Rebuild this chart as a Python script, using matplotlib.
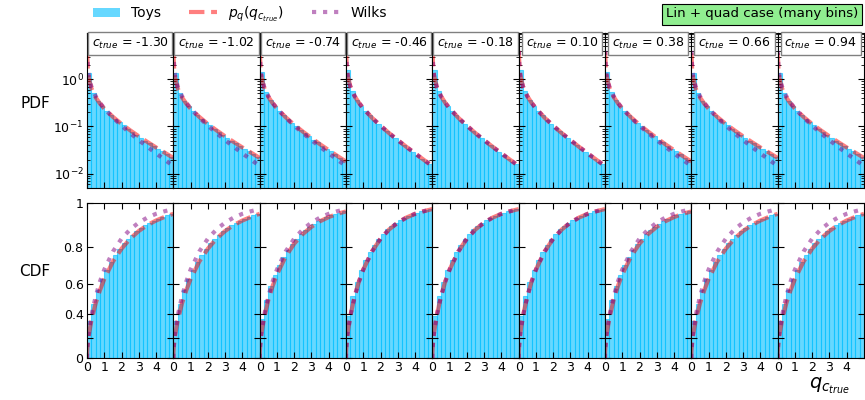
import numpy as np
import matplotlib.pyplot as plt
from matplotlib.patches import Patch
from matplotlib.lines import Line2D

# c_true value of each column
c_true = [-1.30, -1.02, -0.74, -0.46, -0.18, 0.10, 0.38, 0.66, 0.94]

# histogram binning of the toys (20 bins between 0 and 5)
bin_edges = np.linspace(0, 5, 21)

# toy histogram heights (density) per column
toys_pdf = [
    [1.38, 0.51, 0.354, 0.27, 0.215, 0.176, 0.146, 0.123, 0.105, 0.09, 0.077, 0.067, 0.058, 0.05, 0.044, 0.038, 0.034, 0.03, 0.026, 0.023],
    [1.38, 0.51, 0.354, 0.27, 0.215, 0.176, 0.146, 0.123, 0.105, 0.09, 0.077, 0.067, 0.058, 0.05, 0.044, 0.038, 0.034, 0.03, 0.026, 0.023],
    [1.45, 0.53, 0.363, 0.274, 0.216, 0.174, 0.144, 0.12, 0.1, 0.085, 0.072, 0.062, 0.053, 0.046, 0.039, 0.034, 0.03, 0.026, 0.022, 0.02],
    [1.53, 0.55, 0.372, 0.277, 0.215, 0.172, 0.14, 0.114, 0.095, 0.079, 0.066, 0.056, 0.048, 0.04, 0.034, 0.029, 0.025, 0.021, 0.018, 0.016],
    [1.53, 0.55, 0.372, 0.277, 0.215, 0.172, 0.14, 0.114, 0.095, 0.079, 0.066, 0.056, 0.048, 0.04, 0.034, 0.029, 0.025, 0.021, 0.018, 0.016],
    [1.53, 0.55, 0.372, 0.277, 0.215, 0.172, 0.14, 0.114, 0.095, 0.079, 0.066, 0.056, 0.048, 0.04, 0.034, 0.029, 0.025, 0.021, 0.018, 0.016],
    [1.45, 0.53, 0.363, 0.274, 0.216, 0.174, 0.144, 0.12, 0.1, 0.085, 0.072, 0.062, 0.053, 0.046, 0.039, 0.034, 0.03, 0.026, 0.022, 0.02],
    [1.38, 0.51, 0.354, 0.27, 0.215, 0.176, 0.146, 0.123, 0.105, 0.09, 0.077, 0.067, 0.058, 0.05, 0.044, 0.038, 0.034, 0.03, 0.026, 0.023],
    [1.38, 0.51, 0.354, 0.27, 0.215, 0.176, 0.146, 0.123, 0.105, 0.09, 0.077, 0.067, 0.058, 0.05, 0.044, 0.038, 0.034, 0.03, 0.026, 0.023],
]

# p_q(q_c_true) curve, pdf
q_pdf = [0.01, 0.05, 0.1, 0.25, 0.5, 0.75, 1, 1.5, 2, 2.5, 3, 3.5, 4, 4.5, 5]
pq_pdf = [
    [3.55, 1.56, 1.08, 0.646, 0.413, 0.305, 0.239, 0.16, 0.113, 0.083, 0.062, 0.047, 0.036, 0.028, 0.0216],
    [3.55, 1.56, 1.08, 0.646, 0.413, 0.305, 0.239, 0.16, 0.113, 0.083, 0.062, 0.047, 0.036, 0.028, 0.0216],
    [3.75, 1.65, 1.14, 0.674, 0.426, 0.311, 0.241, 0.158, 0.109, 0.078, 0.057, 0.042, 0.0316, 0.0238, 0.0181],
    [3.97, 1.74, 1.2, 0.704, 0.439, 0.317, 0.242, 0.154, 0.104, 0.0723, 0.0514, 0.0371, 0.027, 0.0198, 0.0146],
    [3.97, 1.74, 1.2, 0.704, 0.439, 0.317, 0.242, 0.154, 0.104, 0.0723, 0.0514, 0.0371, 0.027, 0.0198, 0.0146],
    [3.97, 1.74, 1.2, 0.704, 0.439, 0.317, 0.242, 0.154, 0.104, 0.0723, 0.0514, 0.0371, 0.027, 0.0198, 0.0146],
    [3.75, 1.65, 1.14, 0.674, 0.426, 0.311, 0.241, 0.158, 0.109, 0.078, 0.057, 0.042, 0.0316, 0.0238, 0.0181],
    [3.55, 1.56, 1.08, 0.646, 0.413, 0.305, 0.239, 0.16, 0.113, 0.083, 0.062, 0.047, 0.036, 0.028, 0.0216],
    [3.55, 1.56, 1.08, 0.646, 0.413, 0.305, 0.239, 0.16, 0.113, 0.083, 0.062, 0.047, 0.036, 0.028, 0.0216],
]

# p_q(q_c_true) curve, cdf
q_cdf = [0, 0.01, 0.05, 0.1, 0.25, 0.5, 0.75, 1, 1.5, 2, 2.5, 3, 3.5, 4, 4.5, 5]
pq_cdf = [
    [0, 0.071, 0.159, 0.223, 0.345, 0.473, 0.561, 0.629, 0.727, 0.794, 0.843, 0.879, 0.906, 0.926, 0.942, 0.955],
    [0, 0.071, 0.159, 0.223, 0.345, 0.473, 0.561, 0.629, 0.727, 0.794, 0.843, 0.879, 0.906, 0.926, 0.942, 0.955],
    [0, 0.075, 0.167, 0.235, 0.363, 0.496, 0.587, 0.655, 0.753, 0.819, 0.865, 0.898, 0.923, 0.941, 0.955, 0.965],
    [0, 0.08, 0.177, 0.248, 0.383, 0.52, 0.614, 0.683, 0.779, 0.843, 0.886, 0.917, 0.939, 0.955, 0.966, 0.975],
    [0, 0.08, 0.177, 0.248, 0.383, 0.52, 0.614, 0.683, 0.779, 0.843, 0.886, 0.917, 0.939, 0.955, 0.966, 0.975],
    [0, 0.08, 0.177, 0.248, 0.383, 0.52, 0.614, 0.683, 0.779, 0.843, 0.886, 0.917, 0.939, 0.955, 0.966, 0.975],
    [0, 0.075, 0.167, 0.235, 0.363, 0.496, 0.587, 0.655, 0.753, 0.819, 0.865, 0.898, 0.923, 0.941, 0.955, 0.965],
    [0, 0.071, 0.159, 0.223, 0.345, 0.473, 0.561, 0.629, 0.727, 0.794, 0.843, 0.879, 0.906, 0.926, 0.942, 0.955],
    [0, 0.071, 0.159, 0.223, 0.345, 0.473, 0.561, 0.629, 0.727, 0.794, 0.843, 0.879, 0.906, 0.926, 0.942, 0.955],
]

# Wilks curve (same in every column)
wilks_pdf = [3.97, 1.74, 1.2, 0.704, 0.439, 0.317, 0.242, 0.154, 0.104, 0.0723, 0.0514, 0.0371, 0.027, 0.0198, 0.0146]
wilks_cdf = [0, 0.08, 0.177, 0.248, 0.383, 0.52, 0.614, 0.683, 0.779, 0.843, 0.886, 0.917, 0.939, 0.955, 0.966, 0.975]

fs = 9
toys_col = "deepskyblue"
pq_col = "red"
wilks_col = "purple"

bin_centers = 0.5 * (bin_edges[1:] + bin_edges[:-1])
bin_width = bin_edges[1] - bin_edges[0]

fig, axes = plt.subplots(2, 9, figsize=(8.65, 4), dpi=100, sharex=True)
fig.subplots_adjust(left=0.1006, right=0.9988, top=0.9175, bottom=0.105, wspace=0, hspace=0.097)

for i, c in enumerate(c_true):
    ax_pdf = axes[0, i]
    ax_cdf = axes[1, i]

    # PDF row
    ax_pdf.hist(bin_centers, bins=bin_edges, weights=toys_pdf[i], color=toys_col,
                edgecolor=toys_col, linewidth=0.8, alpha=0.6, log=True)
    ax_pdf.plot(q_pdf, pq_pdf[i], color=pq_col, alpha=0.5, ls="--", lw=3)
    ax_pdf.plot(q_pdf, wilks_pdf, color=wilks_col, alpha=0.5, ls=":", lw=3)
    ax_pdf.set_ylim(5e-3, 9.5)
    ax_pdf.set_yticks([1e-2, 1e-1, 1])
    ax_pdf.text(0.5, 0.982, rf"$c_{{true}}$ = {c:.2f}", transform=ax_pdf.transAxes,
                ha="center", va="top", fontsize=9, zorder=10,
                bbox=dict(boxstyle="square,pad=0.3", fc="white", ec="gray"))

    # CDF row
    ax_cdf.hist(bin_centers, bins=bin_edges, weights=np.array(toys_pdf[i]) * bin_width,
                cumulative=True, color=toys_col, edgecolor=toys_col, linewidth=0.8, alpha=0.6)
    ax_cdf.plot(q_cdf, pq_cdf[i], color=pq_col, alpha=0.5, ls="--", lw=3)
    ax_cdf.plot(q_cdf, wilks_cdf, color=wilks_col, alpha=0.5, ls=":", lw=3)
    ax_cdf.set_yscale("function", functions=(np.exp, np.log))
    ax_cdf.set_ylim(0, 1)
    ax_cdf.set_yticks([0, 0.2, 0.4, 0.6, 0.8, 1], ["0", "", "0.4", "0.6", "0.8", "1"])

    for ax in (ax_pdf, ax_cdf):
        ax.set_xlim(0, 5)
        ax.set_xticks([0, 1, 2, 3, 4])
        ax.tick_params(which="both", direction="in", top=True, right=True, labelsize=fs, pad=2.5)
        ax.tick_params(which="major", length=4)
        ax.tick_params(which="minor", length=2)
        if i > 0:
            ax.tick_params(labelleft=False)

fig.text(35 / 865, 1 - 103 / 400, "PDF", ha="center", va="center", fontsize=11)
fig.text(35 / 865, 1 - 272 / 400, "CDF", ha="center", va="center", fontsize=11)
fig.text(830 / 865, 1 - 386 / 400, r"$q_{c_{true}}$", ha="center", va="center", fontsize=14)

handles = [
    Patch(facecolor=toys_col, alpha=0.6),
    Line2D([], [], color=pq_col, alpha=0.5, ls="--", lw=3),
    Line2D([], [], color=wilks_col, alpha=0.5, ls=":", lw=3),
]
labels = ["Toys", r"$p_q(q_{c_{true}})$", "Wilks"]
fig.legend(handles, labels, loc="center left", bbox_to_anchor=(87 / 865, 1 - 14 / 400),
           borderaxespad=0, ncol=3, frameon=False, fontsize=10)

fig.text(858 / 865, 1 - 14 / 400, "Lin + quad case (many bins)", ha="right", va="center",
         fontsize=9.6, bbox=dict(boxstyle="square,pad=0.3", fc="lightgreen", ec="black", lw=0.8))

fig.savefig("out.png", dpi=100)
